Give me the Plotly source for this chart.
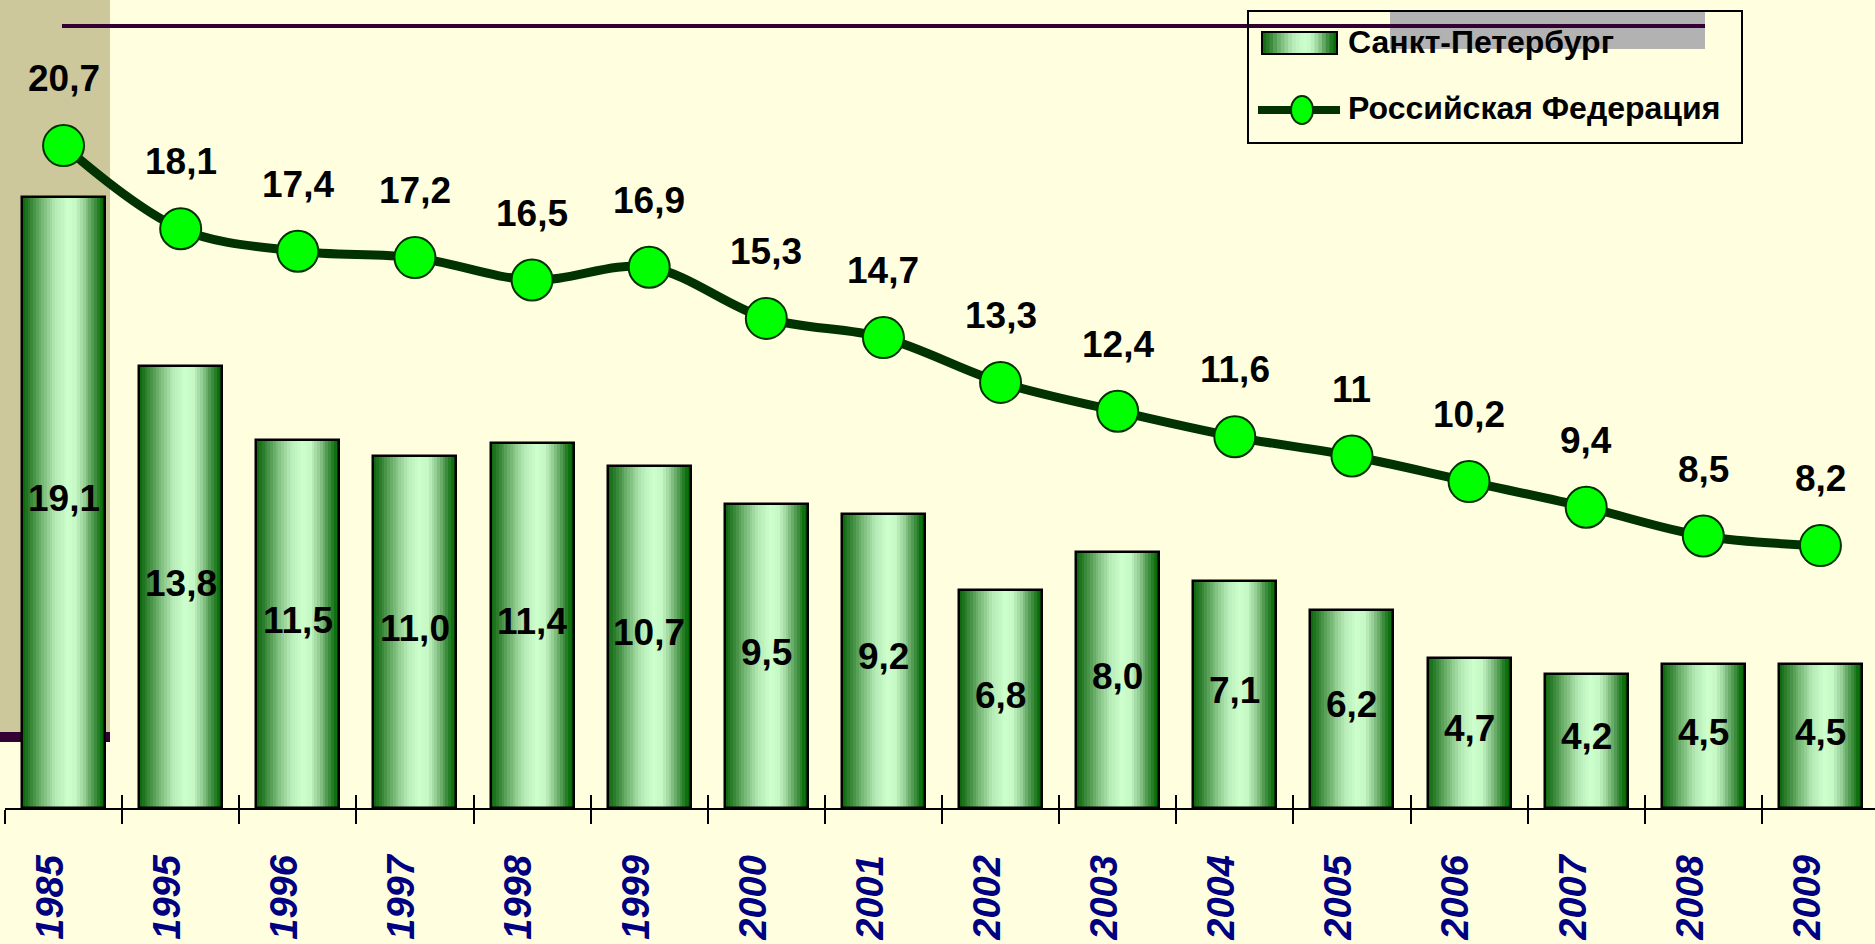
import plotly.graph_objects as go

# ---------------- data ----------------
years = ["1985", "1995", "1996", "1997", "1998", "1999", "2000", "2001",
         "2002", "2003", "2004", "2005", "2006", "2007", "2008", "2009"]
spb_values = [19.1, 13.8, 11.5, 11.0, 11.4, 10.7, 9.5, 9.2,
              6.8, 8.0, 7.1, 6.2, 4.7, 4.2, 4.5, 4.5]
rf_values = [20.7, 18.1, 17.4, 17.2, 16.5, 16.9, 15.3, 14.7,
             13.3, 12.4, 11.6, 11.0, 10.2, 9.4, 8.5, 8.2]
spb_name = "Санкт-Петербург"
rf_name = "Российская Федерация"

# ---------------- styling ----------------
W, H = 1875, 944
L_M, R_M, T_M, B_M = 5, 0, 0, 136
PW = W - L_M - R_M
PH = H - T_M - B_M
BG = "#FFFFE0"
FONT = "Arial, 'Liberation Sans', sans-serif"
BAR_W = 0.709
N_STRIPS = 30
X_RANGE = [-0.5, 15.5 - 4 / 117.1]
Y_RANGE = [0, PH / 32.0]

stops = [(0.0, (10, 100, 10)), (0.1, (50, 130, 50)), (0.25, (120, 185, 120)),
         (0.4, (180, 232, 180)), (0.55, (204, 255, 204)), (0.65, (198, 248, 198)),
         (0.75, (150, 208, 150)), (0.86, (75, 150, 75)), (0.95, (15, 112, 15)),
         (1.0, (0, 100, 0))]


def grad(t):
    for (t0, c0), (t1, c1) in zip(stops[:-1], stops[1:]):
        if t0 <= t <= t1:
            f = (t - t0) / (t1 - t0) if t1 > t0 else 0
            return "rgb(%d,%d,%d)" % tuple(round(a + (b - a) * f) for a, b in zip(c0, c1))
    return "rgb(0,100,0)"


def px(x):
    return (x - L_M) / PW


def py(y):
    return (T_M + PH - y) / PH


def fmt_bar(v):
    return f"{v:.1f}".replace(".", ",")


def fmt_line(v):
    return str(int(v)) if float(v).is_integer() else f"{v}".replace(".", ",")


fig = go.Figure()

# gradient bars built from vertical strips
step = BAR_W / N_STRIPS
for i in range(N_STRIPS):
    off = -BAR_W / 2 + i * step
    wdt = min(step * 1.6, BAR_W / 2 - off)
    fig.add_trace(go.Bar(
        x=years, y=spb_values, offset=off, width=wdt,
        marker=dict(color=grad((i + 0.5) / N_STRIPS), line=dict(width=0)),
        showlegend=False, hoverinfo="skip"))
# outline
fig.add_trace(go.Bar(
    x=years, y=spb_values, offset=-BAR_W / 2, width=BAR_W, name=spb_name,
    marker=dict(color="rgba(0,0,0,0)", line=dict(color="black", width=2.5)),
    showlegend=False))

# line
fig.add_trace(go.Scatter(
    x=years, y=rf_values, mode="lines+markers", name=rf_name,
    line=dict(color="#003300", width=9, shape="spline", smoothing=1.0),
    marker=dict(color="#00FF00", size=41, line=dict(color="#003300", width=2)),
    showlegend=False))

# inside ticks via overlay axis
fig.add_trace(go.Scatter(x=[], y=[], xaxis="x2", showlegend=False))

ann = []
for i, v in enumerate(rf_values):
    ann.append(dict(x=i, y=v, xref="x", yref="y", text=fmt_line(v), showarrow=False,
                    xanchor="center", yanchor="middle", yshift=67,
                    font=dict(family=FONT, size=37, color="black", weight="bold")))
for i, v in enumerate(spb_values):
    ann.append(dict(x=i, y=v / 2, xref="x", yref="y", text=fmt_bar(v), showarrow=False,
                    xanchor="center", yanchor="middle", yshift=4,
                    font=dict(family=FONT, size=37, color="black", weight="bold")))

shapes = []
# slide decorations
shapes.append(dict(type="rect", xref="paper", yref="paper", x0=px(0), x1=px(110),
                   y0=py(732), y1=py(-5), fillcolor="#CCC89C", line=dict(width=0), layer="below"))
shapes.append(dict(type="rect", xref="paper", yref="paper", x0=px(0), x1=px(110),
                   y0=py(742), y1=py(732), fillcolor="#330033", line=dict(width=0), layer="below"))
shapes.append(dict(type="rect", xref="paper", yref="paper", x0=px(1390), x1=px(1705),
                   y0=py(49), y1=py(12), fillcolor="#B2B2B2", line=dict(width=0), layer="below"))
shapes.append(dict(type="rect", xref="paper", yref="paper", x0=px(62), x1=px(1705),
                   y0=py(28), y1=py(24), fillcolor="#330033", line=dict(width=0), layer="below"))

# manual legend
lx0, lx1 = 1262, 1337
ns = 20
for i in range(ns):
    a = lx0 + (lx1 - lx0) * i / ns
    b = lx0 + (lx1 - lx0) * (i + 1) / ns
    shapes.append(dict(type="rect", xref="paper", yref="paper", x0=px(a), x1=px(b + 0.6),
                       y0=py(54), y1=py(32), fillcolor=grad((i + 0.5) / ns),
                       line=dict(width=0)))
shapes.append(dict(type="rect", xref="paper", yref="paper", x0=px(lx0), x1=px(lx1),
                   y0=py(54), y1=py(32), line=dict(color="black", width=2)))
shapes.append(dict(type="line", xref="paper", yref="paper", x0=px(1258), x1=px(1340),
                   y0=py(110), y1=py(110), line=dict(color="#003300", width=8)))
shapes.append(dict(type="circle", xref="paper", yref="paper", x0=px(1291), x1=px(1313),
                   y0=py(124), y1=py(96), fillcolor="#00FF00", line=dict(color="#003300", width=2)))
shapes.append(dict(type="rect", xref="paper", yref="paper", x0=px(1248), x1=px(1742),
                   y0=py(143), y1=py(11), line=dict(color="black", width=2)))

ann.append(dict(x=px(1346), y=py(42), xref="paper", yref="paper", text=spb_name,
                showarrow=False, xanchor="left", yanchor="middle",
                font=dict(family=FONT, size=32, color="black", weight="bold")))
ann.append(dict(x=px(1346), y=py(108), xref="paper", yref="paper", text=rf_name,
                showarrow=False, xanchor="left", yanchor="middle",
                font=dict(family=FONT, size=32, color="black", weight="bold")))

fig.update_layout(
    width=W, height=H,
    margin=dict(l=L_M, r=R_M, t=T_M, b=B_M, pad=0),
    paper_bgcolor=BG, plot_bgcolor="rgba(0,0,0,0)",
    barmode="overlay", bargap=0,
    showlegend=False,
    annotations=ann, shapes=shapes,
    xaxis=dict(type="category", categoryarray=years, categoryorder="array", range=X_RANGE,
               showline=True, linecolor="black", linewidth=2,
               ticks="outside", ticklen=14, tickwidth=2, tickcolor="black",
               tickson="boundaries", tickangle=-90, ticklabelstandoff=30,
               ticklabelshift=-13,
               tickfont=dict(family=FONT, size=38, color="#000080",
                             weight="bold", style="italic"),
               showgrid=False, zeroline=False),
    xaxis2=dict(type="linear", overlaying="x", anchor="y", side="bottom",
                range=X_RANGE, tickvals=[i - 0.5 for i in range(len(years))],
                ticks="inside", ticklen=13, tickwidth=2, tickcolor="black",
                showticklabels=False, showline=False, showgrid=False, zeroline=False),
    yaxis=dict(range=Y_RANGE, visible=True, showticklabels=False, ticks="",
               showline=False, showgrid=False, zeroline=False),
)

fig.write_html("out.html")
